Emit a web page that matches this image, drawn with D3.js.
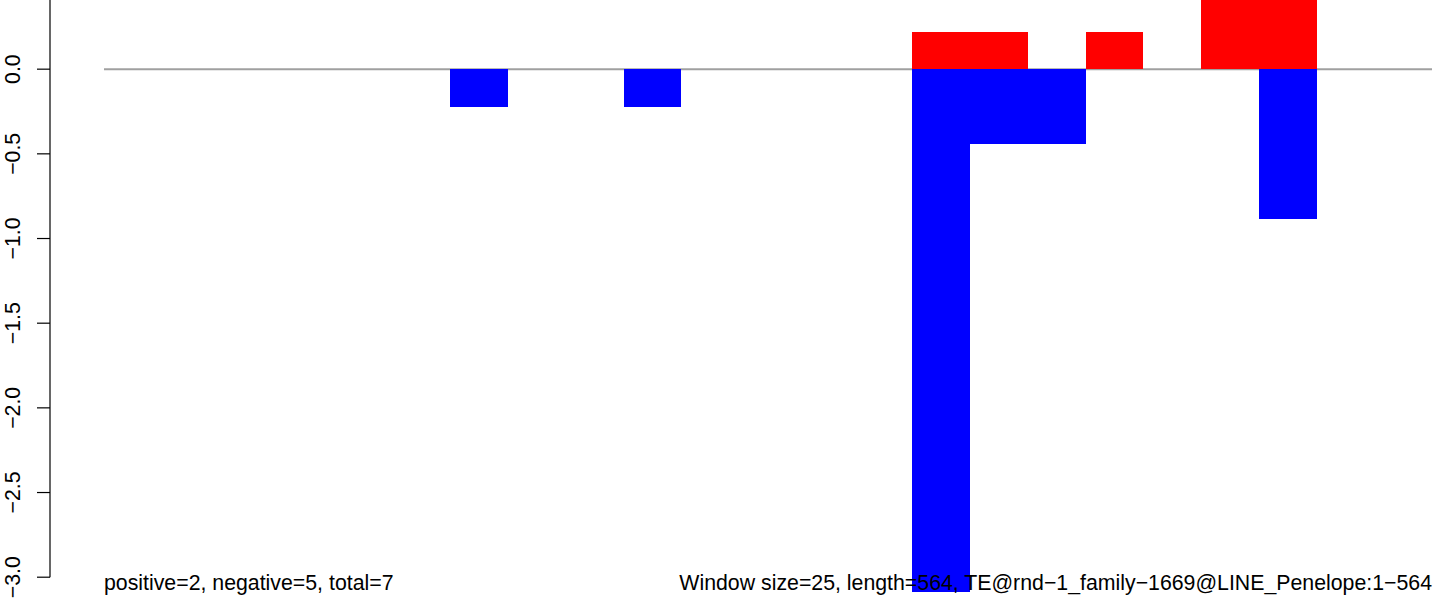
<!DOCTYPE html>
<html>
<head>
<meta charset="utf-8">
<script src="https://cdn.jsdelivr.net/npm/d3@7"></script>
<style>
  html, body { margin: 0; padding: 0; background: #fff; }
  svg { display: block; }
  text { font-family: "Liberation Sans", Arial, Helvetica, sans-serif; }
</style>
</head>
<body>
<svg id="chart" width="1444" height="613"></svg>
<script>
// Window indices (25 bp windows over a 564 bp sequence)
const windowCount = 23;
const negWindows = [6, 9, 14, 15, 16, 20];
const negValues  = [-0.222, -0.222, -3.09, -0.443, -0.443, -0.886];
const posWindows = [14, 15, 17, 19, 20];
const posValues  = [0.222, 0.222, 0.222, 0.443, 0.443];
const yTicks = [0.5, 0, -0.5, -1, -1.5, -2, -2.5, -3];
const yTickLabels = ["0.5", "0.0", "\u22120.5", "\u22121.0", "\u22121.5", "\u22122.0", "\u22122.5", "\u22123.0"];
const leftNote = "positive=2, negative=5, total=7";
const rightNote = "Window size=25, length=564, TE@rnd\u22121_family\u22121669@LINE_Penelope:1\u2212564";

const svg = d3.select("#chart");
const x = d3.scaleLinear().domain([0, windowCount]).range([104, 1432]);
const y = d3.scaleLinear().domain([-3, 0.5]).range([577.2, -15.5]);
const fs = 21.3;

// zero line
svg.append("line")
  .attr("x1", x(0)).attr("x2", x(windowCount))
  .attr("y1", y(0)).attr("y2", y(0))
  .attr("stroke", "#a0a0a0").attr("stroke-width", 2);

// bars
const negData = negWindows.map((w, i) => ({ w, v: negValues[i] }));
const posData = posWindows.map((w, i) => ({ w, v: posValues[i] }));

svg.append("g").selectAll("rect").data(posData).join("rect")
  .attr("x", d => x(d.w)).attr("width", d => x(d.w + 1) - x(d.w))
  .attr("y", d => y(d.v)).attr("height", d => y(0) - y(d.v))
  .attr("fill", "#ff0000").attr("shape-rendering", "crispEdges");

svg.append("g").selectAll("rect").data(negData).join("rect")
  .attr("x", d => x(d.w)).attr("width", d => x(d.w + 1) - x(d.w))
  .attr("y", y(0)).attr("height", d => y(d.v) - y(0))
  .attr("fill", "#0000ff").attr("shape-rendering", "crispEdges");

// y axis
const axisX = 50;
const ax = svg.append("g");
ax.append("line")
  .attr("x1", axisX).attr("x2", axisX)
  .attr("y1", y(yTicks[0])).attr("y2", y(yTicks[yTicks.length - 1]))
  .attr("stroke", "#000").attr("stroke-width", 1.2);
ax.selectAll("line.tick").data(yTicks).join("line")
  .attr("class", "tick")
  .attr("x1", axisX - 13).attr("x2", axisX)
  .attr("y1", d => y(d)).attr("y2", d => y(d))
  .attr("stroke", "#000").attr("stroke-width", 1.2);
// only labels whose tick lies inside the visible area are drawn
const visibleTicks = yTicks.map((v, i) => ({ v, label: yTickLabels[i] })).filter(d => y(d.v) > 0);
ax.selectAll("text").data(visibleTicks).join("text")
  .attr("transform", d => `translate(20,${y(d.v)}) rotate(-90)`)
  .attr("text-anchor", "middle")
  .attr("font-size", fs)
  .attr("fill", "#000")
  .text(d => d.label);

// notes
svg.append("text")
  .attr("x", x(0)).attr("y", 590)
  .attr("font-size", fs).attr("fill", "#000")
  .text(leftNote);
svg.append("text")
  .attr("x", x(windowCount)).attr("y", 590)
  .attr("text-anchor", "end")
  .attr("font-size", fs).attr("fill", "#000")
  .text(rightNote);
</script>
</body>
</html>
